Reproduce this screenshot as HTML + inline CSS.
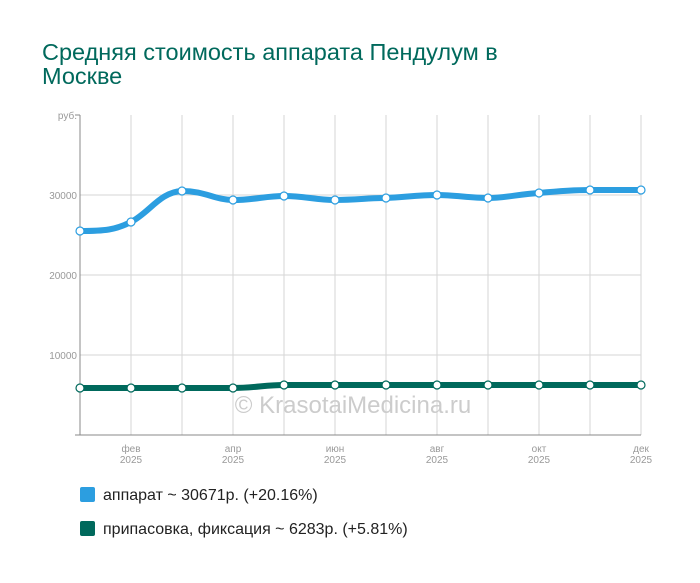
<!DOCTYPE html>
<html><head><meta charset="utf-8"><style>
body{margin:0;background:#fff;width:700px;height:578px;overflow:hidden;font-family:"Liberation Sans",sans-serif}
</style></head><body>
<svg width="700" height="578" xmlns="http://www.w3.org/2000/svg" font-family="Liberation Sans, sans-serif">
<text x="42" y="60" font-size="23.5" fill="#00695c">Средняя стоимость аппарата Пендулум в</text>
<text x="42" y="84" font-size="23.5" fill="#00695c">Москве</text>
<g stroke="#d6d6d6" stroke-width="1">
<line x1="80" y1="195" x2="641" y2="195"/><line x1="80" y1="275" x2="641" y2="275"/><line x1="80" y1="355" x2="641" y2="355"/>
<line x1="131" y1="115" x2="131" y2="435"/><line x1="182" y1="115" x2="182" y2="435"/><line x1="233" y1="115" x2="233" y2="435"/><line x1="284" y1="115" x2="284" y2="435"/><line x1="335" y1="115" x2="335" y2="435"/><line x1="386" y1="115" x2="386" y2="435"/><line x1="437" y1="115" x2="437" y2="435"/><line x1="488" y1="115" x2="488" y2="435"/><line x1="539" y1="115" x2="539" y2="435"/><line x1="590" y1="115" x2="590" y2="435"/><line x1="641" y1="115" x2="641" y2="435"/>
</g>
<g stroke="#888" stroke-width="1"><line x1="80" y1="115" x2="80" y2="435"/><line x1="75" y1="435" x2="641" y2="435"/><line x1="75" y1="115" x2="80" y2="115"/></g>
<g font-size="10" fill="#999" text-anchor="end">
<text x="77" y="119">руб.</text><text x="77" y="199">30000</text><text x="77" y="279">20000</text><text x="77" y="359">10000</text></g>
<g font-size="10" fill="#999" text-anchor="middle">
<text x="131" y="452">фев</text><text x="131" y="463">2025</text>
<text x="233" y="452">апр</text><text x="233" y="463">2025</text>
<text x="335" y="452">июн</text><text x="335" y="463">2025</text>
<text x="437" y="452">авг</text><text x="437" y="463">2025</text>
<text x="539" y="452">окт</text><text x="539" y="463">2025</text>
<text x="641" y="452">дек</text><text x="641" y="463">2025</text></g>
<text x="353" y="413" font-size="24" fill="#ccc" text-anchor="middle">© KrasotaiMedicina.ru</text>
<path d="M80,231 C105,231 115,230 131,222 C150,212 160,192 182,191 C205,191 215,200 233,200 C255,200 265,196 284,196 C305,196 315,200 335,200 C355,200 370,198 386,198 C405,197 420,195 437,195 C455,195 470,198 488,198 C505,198 520,194 539,193 C560,191 575,190 590,190 C610,190 625,190 641,190" fill="none" stroke="#2c9ee0" stroke-width="6"/>
<path d="M80,388 L233,388 C255,388 265,385 284,385 L641,385" fill="none" stroke="#00695c" stroke-width="6"/>
<g fill="#fff" stroke="#2c9ee0" stroke-width="1.2">
<circle cx="80" cy="231" r="4"/><circle cx="131" cy="222" r="4"/><circle cx="182" cy="191" r="4"/><circle cx="233" cy="200" r="4"/><circle cx="284" cy="196" r="4"/><circle cx="335" cy="200" r="4"/><circle cx="386" cy="198" r="4"/><circle cx="437" cy="195" r="4"/><circle cx="488" cy="198" r="4"/><circle cx="539" cy="193" r="4"/><circle cx="590" cy="190" r="4"/><circle cx="641" cy="190" r="4"/></g>
<g fill="#fff" stroke="#00695c" stroke-width="1.2">
<circle cx="80" cy="388" r="4"/><circle cx="131" cy="388" r="4"/><circle cx="182" cy="388" r="4"/><circle cx="233" cy="388" r="4"/><circle cx="284" cy="385" r="4"/><circle cx="335" cy="385" r="4"/><circle cx="386" cy="385" r="4"/><circle cx="437" cy="385" r="4"/><circle cx="488" cy="385" r="4"/><circle cx="539" cy="385" r="4"/><circle cx="590" cy="385" r="4"/><circle cx="641" cy="385" r="4"/></g>
<rect x="80" y="487" width="15" height="15" rx="2" fill="#2c9ee0"/>
<text x="103" y="500" font-size="16" fill="#222">аппарат ~ 30671р. (+20.16%)</text>
<rect x="80" y="521" width="15" height="15" rx="2" fill="#00695c"/>
<text x="103" y="534" font-size="16" fill="#222">припасовка, фиксация ~ 6283р. (+5.81%)</text>
</svg>
</body></html>
